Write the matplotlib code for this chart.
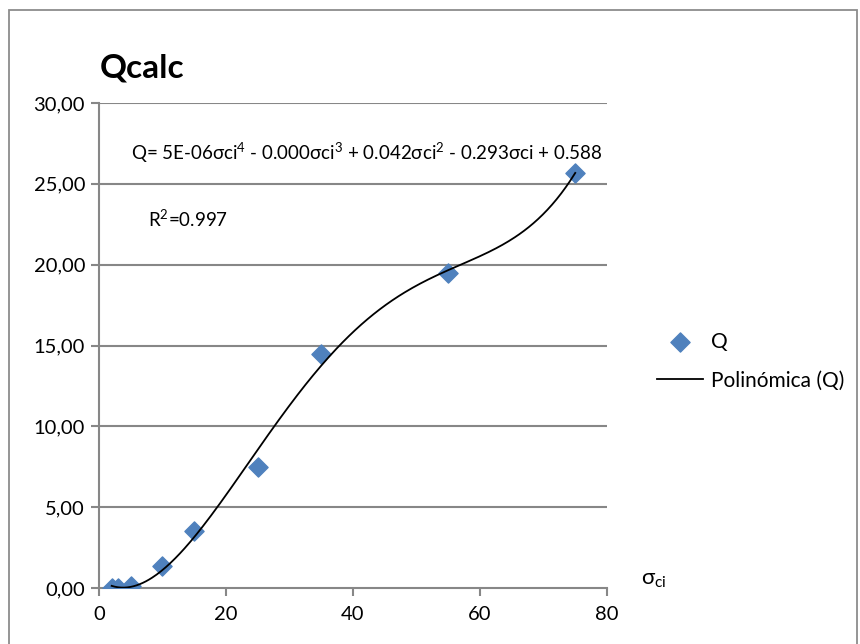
import matplotlib.pyplot as plt
from matplotlib.patches import Rectangle
from matplotlib.ticker import FuncFormatter
import numpy as np

# data
sigma_ci = [2, 3, 5, 10, 15, 25, 35, 55, 75]
q_values = [0.0, 0.0, 0.1, 1.35, 3.5, 7.5, 14.5, 19.5, 25.7]
x_ticks = [0, 20, 40, 60, 80]
y_ticks = [0, 5, 10, 15, 20, 25, 30]

plt.rcParams['font.family'] = ['Lato', 'DejaVu Sans']
plt.rcParams['mathtext.fontset'] = 'custom'
plt.rcParams['mathtext.rm'] = 'Lato'
plt.rcParams['mathtext.it'] = 'Lato:italic'

fig = plt.figure(figsize=(8.6, 6.44), dpi=100)
ax = fig.add_axes([0.1151, 0.087, 0.5907, 0.753])

# outer chart frame
fig.patches.append(Rectangle((9 / 860, -0.05), 848 / 860, 1.0 - 10 / 644 + 0.05,
                             transform=fig.transFigure, fill=False,
                             edgecolor='#8c8c8c', linewidth=1.3))

grid_color = '#878787'
ax.scatter(sigma_ci, q_values, marker='D', s=95, color='#4f81bd', zorder=3, label='Q')

# 4th degree polynomial trendline (like the spreadsheet one)
coef = np.polyfit(sigma_ci, q_values, 4)
xs = np.linspace(min(sigma_ci), max(sigma_ci), 300)
ax.plot(xs, np.polyval(coef, xs), color='black', linewidth=1.3, zorder=4,
        label='Polinómica (Q)')

ax.set_xlim(0, 80)
ax.set_ylim(0, 30)
ax.set_xticks(x_ticks)
ax.set_yticks(y_ticks)
ax.yaxis.set_major_formatter(FuncFormatter(lambda v, p: f'{v:.2f}'.replace('.', ',')))
ax.tick_params(axis='both', colors=grid_color, labelcolor='black', labelsize=14.5,
               length=6, width=1.5)
ax.tick_params(axis='y', pad=4)
ax.tick_params(axis='x', pad=7)
for t in y_ticks[1:]:
    ax.axhline(t, color=grid_color, linewidth=1.5, zorder=1)
for s in ['top', 'right']:
    ax.spines[s].set_visible(False)
for s in ['left', 'bottom']:
    ax.spines[s].set_color(grid_color)
    ax.spines[s].set_linewidth(1.5)

fig.text(100 / 860, 1 - 68 / 644, 'Qcalc', fontsize=24, fontweight='bold',
         va='center', ha='left')

eq = (r'Q= 5E-06σci$\mathregular{^4}$ - 0.000σci$\mathregular{^3}$ + '
      r'0.042σci$\mathregular{^2}$ - 0.293σci + 0.588')
fig.text(367 / 860, 1 - 153 / 644, eq, fontsize=13.5, ha='center', va='center')
fig.text(148 / 860, 1 - 219 / 644, r'R$\mathregular{^2}$=0.997',
         fontsize=13.5, ha='left', va='center')
fig.text(641 / 860, 1 - 580 / 644, r'$\mathregular{\sigma_{ci}}$', fontsize=16,
         ha='left', va='center')

fig.legend(loc='upper left', bbox_to_anchor=(638 / 860, 1 - 313 / 644),
           frameon=False, fontsize=15, handlelength=2.2, handletextpad=0.4,
           labelspacing=0.9)

fig.savefig('out.png', dpi=100)
